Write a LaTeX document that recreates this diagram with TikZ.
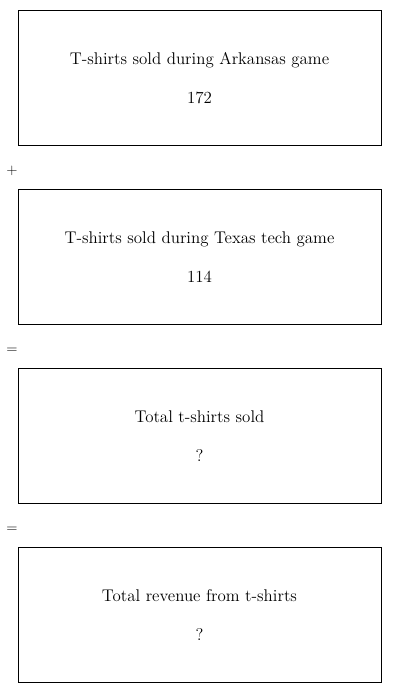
\documentclass[tikz,border=0pt]{standalone}
\begin{document}
\begin{tikzpicture}[x=0.75pt,y=-0.75pt,
  box/.style={draw=black,line width=0.75pt,minimum width=363*0.75pt,minimum height=135*0.75pt,inner sep=0pt,anchor=north west},
  lbl/.style={anchor=base,inner sep=0pt,font=\fontsize{12.7}{15}\selectfont},
  op/.style={anchor=base,inner sep=0pt,font=\fontsize{11}{13}\selectfont}]
\useasboundingbox (0,0) rectangle (400,693);
\node[box] (b1) at (18,10) {};
\node[box] (b2) at (18,189) {};
\node[box] (b3) at (18,368) {};
\node[box] (b4) at (18,547) {};
\node[lbl] (t1) at (199.5,64.5) {T-shirts sold during Arkansas game};
\node[lbl] (v1) at (199.5,103.5) {172};
\node[lbl] (t2) at (199.5,243.5) {T-shirts sold during Texas tech game};
\node[lbl] (v2) at (199.5,282.5) {114};
\node[lbl] (t3) at (199.5,422.5) {Total t-shirts sold};
\node[lbl] (v3) at (199.5,461.5) {?};
\node[lbl] (t4) at (199.5,601.5) {Total revenue from t-shirts};
\node[lbl] (v4) at (199.5,640.5) {?};
\node[op] (o1) at (12,174) {+};
\node[op] (o2) at (12,353) {=};
\node[op] (o3) at (12,532) {=};
\end{tikzpicture}
\end{document}
